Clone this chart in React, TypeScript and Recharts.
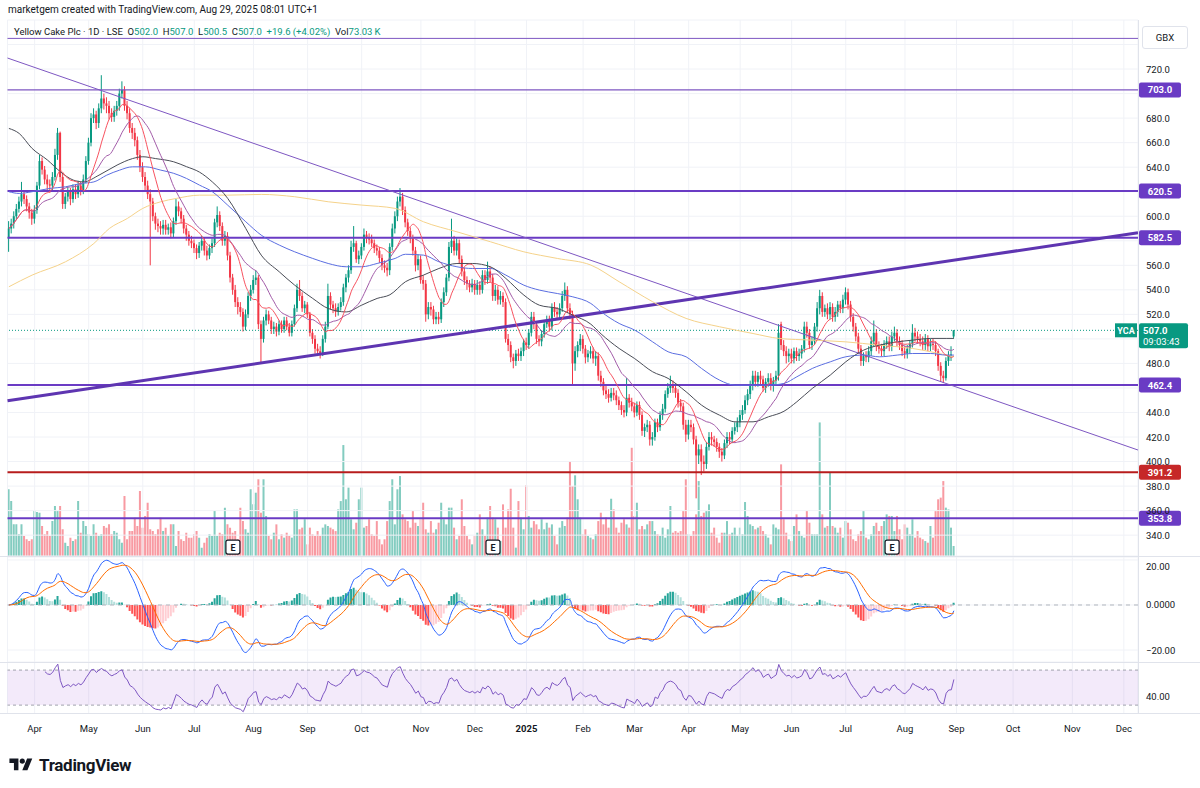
import React from 'react';
import {
  ComposedChart,
  Bar,
  Line,
  XAxis,
  YAxis,
  CartesianGrid,
  ReferenceLine,
  ReferenceArea,
  ReferenceDot,
  Cell,
} from 'recharts';

// daily candles, Yellow Cake Plc (LSE), mid Mar 2024 -> 29 Aug 2025
const opens = [
  582, 590, 594, 600, 606, 612, 618, 614, 608, 603,
  598, 605, 625, 645, 638, 630, 626, 625, 632, 650,
  668, 632, 610, 616, 620, 614, 622, 618, 625, 621,
  630, 645, 660, 680, 683, 676, 688, 696, 692, 690,
  684, 681, 686, 690, 700, 703, 690, 684, 672, 668,
  662, 650, 640, 632, 625, 618, 612, 600, 594, 592,
  590, 593, 589, 591, 586, 596, 608, 604, 598, 590,
  585, 580, 578, 574, 570, 576, 580, 572, 568, 574,
  578, 595, 601, 592, 580, 584, 568, 550, 540, 530,
  526, 522, 510, 520, 535, 540, 548, 550, 512, 500,
  515, 520, 515, 508, 510, 506, 512, 508, 515, 510,
  505, 512, 525, 540, 535, 525, 528, 520, 505, 500,
  492, 490, 488, 500, 510, 535, 528, 525, 522, 526,
  530, 542, 550, 556, 575, 578, 565, 568, 575, 585,
  582, 581, 578, 574, 572, 566, 560, 558, 556, 575,
  590, 600, 612, 616, 605, 595, 588, 582, 572, 560,
  565, 548, 545, 520, 526, 524, 516, 518, 516, 530,
  538, 550, 575, 580, 572, 578, 565, 555, 548, 545,
  542, 545, 540, 544, 540, 552, 548, 555, 550, 535,
  540, 532, 535, 530, 500, 495, 485, 482, 488, 486,
  490, 497, 495, 505, 518, 512, 500, 498, 504, 512,
  515, 510, 526, 522, 520, 525, 535, 540, 525, 520,
  480, 490, 495, 500, 492, 485, 488, 490, 484, 486,
  470, 465, 458, 455, 452, 456, 454, 450, 446, 442,
  440, 452, 448, 445, 440, 446, 438, 425, 428, 430,
  418, 420, 432, 428, 438, 443, 455, 460, 462, 460,
  456, 448, 445, 430, 422, 430, 428, 418, 405, 410,
  400, 398, 412, 420, 418, 416, 412, 408, 405, 415,
  420, 418, 425, 428, 432, 438, 442, 450, 455, 462,
  470, 465, 470, 467, 460, 465, 468, 462, 466, 470,
  512, 495, 490, 486, 488, 484, 490, 486, 488, 492,
  510, 505, 495, 498, 510, 525, 535, 522, 525, 520,
  526, 518, 522, 528, 525, 532, 538, 528, 518, 510,
  502, 492, 482, 486, 485, 490, 498, 505, 494, 492,
  490, 496, 498, 494, 502, 505, 498, 495, 490, 488,
  492, 496, 505, 502, 500, 498, 495, 500, 494, 496,
  495, 490, 478, 470, 468, 482, 487, 502,
];

const highs = [
  596, 598, 604, 610, 616, 628, 621, 617, 611, 606,
  609, 628, 650, 648, 641, 634, 630, 636, 655, 672,
  669, 635, 619, 624, 623, 626, 626, 629, 628, 634,
  649, 664, 684, 688, 686, 692, 715, 700, 697, 694,
  688, 690, 694, 704, 710, 706, 694, 688, 676, 672,
  665, 654, 644, 636, 629, 622, 615, 603, 598, 596,
  597, 597, 594, 595, 599, 614, 612, 607, 601, 593,
  588, 584, 581, 577, 579, 584, 583, 576, 577, 582,
  598, 608, 604, 595, 588, 587, 571, 553, 544, 534,
  530, 525, 524, 538, 544, 552, 556, 552, 515, 518,
  524, 523, 518, 514, 513, 515, 515, 518, 518, 513,
  515, 528, 545, 548, 538, 531, 530, 522, 508, 503,
  496, 494, 503, 514, 545, 538, 531, 529, 529, 534,
  545, 553, 560, 580, 592, 580, 572, 578, 590, 588,
  586, 585, 581, 577, 575, 569, 564, 562, 578, 594,
  604, 616, 623, 619, 608, 598, 591, 585, 575, 569,
  568, 552, 548, 530, 530, 527, 522, 522, 533, 542,
  553, 579, 598, 584, 582, 581, 568, 558, 551, 548,
  549, 548, 548, 547, 556, 556, 563, 559, 553, 544,
  543, 539, 538, 533, 504, 498, 488, 491, 492, 493,
  500, 501, 508, 522, 522, 514, 503, 507, 515, 519,
  519, 529, 530, 526, 529, 539, 546, 543, 529, 523,
  494, 498, 504, 503, 495, 491, 494, 493, 490, 489,
  474, 468, 462, 459, 460, 460, 458, 453, 449, 446,
  468, 455, 452, 448, 449, 449, 441, 431, 434, 433,
  424, 435, 435, 441, 447, 458, 464, 470, 466, 463,
  459, 451, 448, 434, 434, 434, 431, 421, 414, 414,
  405, 416, 424, 424, 421, 419, 415, 411, 418, 424,
  424, 428, 432, 436, 442, 446, 454, 459, 466, 474,
  474, 473, 474, 470, 468, 472, 472, 469, 474, 512,
  514, 499, 494, 492, 492, 493, 493, 492, 495, 514,
  514, 508, 502, 513, 530, 540, 538, 528, 529, 530,
  529, 526, 531, 531, 536, 542, 541, 531, 521, 513,
  505, 495, 489, 490, 494, 502, 515, 508, 498, 496,
  499, 502, 502, 506, 510, 508, 502, 499, 494, 495,
  499, 512, 509, 506, 504, 502, 504, 503, 500, 500,
  498, 492, 481, 474, 485, 490, 494, 507,
];

const lows = [
  571, 586, 590, 597, 603, 608, 610, 604, 598, 593,
  594, 602, 622, 634, 626, 621, 619, 621, 629, 646,
  628, 606, 606, 612, 609, 611, 614, 615, 617, 618,
  627, 642, 657, 676, 671, 672, 684, 687, 684, 679,
  677, 677, 682, 686, 696, 686, 679, 668, 663, 657,
  646, 636, 628, 620, 614, 560, 596, 589, 587, 585,
  585, 585, 585, 582, 583, 593, 600, 594, 586, 580,
  576, 574, 570, 565, 566, 572, 568, 564, 565, 570,
  575, 591, 588, 576, 576, 564, 546, 536, 526, 520,
  518, 506, 507, 517, 531, 537, 544, 508, 480, 497,
  511, 512, 504, 504, 502, 503, 505, 505, 507, 502,
  502, 510, 522, 531, 522, 521, 517, 502, 496, 488,
  486, 484, 486, 497, 508, 524, 521, 518, 519, 523,
  527, 538, 546, 553, 571, 562, 561, 565, 572, 578,
  577, 575, 570, 568, 562, 556, 554, 551, 552, 572,
  586, 596, 608, 601, 591, 584, 578, 568, 555, 556,
  545, 540, 514, 516, 519, 512, 512, 512, 513, 526,
  535, 547, 570, 568, 568, 561, 551, 544, 540, 538,
  538, 536, 536, 536, 537, 544, 545, 546, 531, 531,
  528, 528, 526, 497, 490, 481, 476, 478, 482, 482,
  486, 491, 492, 502, 508, 496, 494, 494, 501, 509,
  506, 507, 518, 516, 516, 522, 531, 521, 516, 462,
  474, 485, 490, 488, 480, 481, 484, 480, 478, 466,
  461, 454, 451, 448, 449, 450, 446, 442, 438, 436,
  437, 444, 441, 436, 437, 434, 421, 420, 424, 413,
  413, 417, 424, 425, 434, 440, 452, 456, 456, 452,
  444, 441, 426, 416, 418, 424, 414, 370, 398, 389,
  392, 394, 409, 413, 412, 408, 403, 400, 402, 411,
  414, 415, 422, 424, 428, 434, 439, 446, 451, 458,
  461, 461, 463, 457, 456, 461, 458, 457, 462, 466,
  491, 486, 480, 481, 480, 480, 482, 482, 484, 489,
  501, 492, 491, 495, 506, 520, 518, 518, 516, 516,
  514, 514, 518, 521, 521, 528, 524, 514, 506, 498,
  488, 478, 478, 481, 481, 486, 494, 490, 488, 486,
  486, 492, 490, 490, 498, 494, 491, 486, 484, 484,
  488, 493, 498, 496, 494, 491, 491, 490, 490, 491,
  486, 474, 465, 464, 466, 478, 482, 500.5,
];

const closes = [
  590, 594, 600, 606, 612, 618, 614, 608, 603, 598,
  605, 625, 645, 638, 630, 626, 625, 632, 650, 668,
  632, 610, 616, 620, 614, 622, 618, 625, 621, 630,
  645, 660, 680, 683, 676, 688, 696, 692, 690, 684,
  681, 686, 690, 700, 703, 690, 684, 672, 668, 662,
  650, 640, 632, 625, 618, 612, 600, 594, 592, 590,
  593, 589, 591, 586, 596, 608, 604, 598, 590, 585,
  580, 578, 574, 570, 576, 580, 572, 568, 574, 578,
  595, 601, 592, 580, 584, 568, 550, 540, 530, 526,
  522, 510, 520, 535, 540, 548, 550, 512, 500, 515,
  520, 515, 508, 510, 506, 512, 508, 515, 510, 505,
  512, 525, 540, 535, 525, 528, 520, 505, 500, 492,
  490, 488, 500, 510, 535, 528, 525, 522, 526, 530,
  542, 550, 556, 575, 578, 565, 568, 575, 585, 582,
  581, 578, 574, 572, 566, 560, 558, 556, 575, 590,
  600, 612, 616, 605, 595, 588, 582, 572, 560, 565,
  548, 545, 520, 526, 524, 516, 518, 516, 530, 538,
  550, 575, 580, 572, 578, 565, 555, 548, 545, 542,
  545, 540, 544, 540, 552, 548, 555, 550, 535, 540,
  532, 535, 530, 500, 495, 485, 482, 488, 486, 490,
  497, 495, 505, 518, 512, 500, 498, 504, 512, 515,
  510, 526, 522, 520, 525, 535, 540, 525, 520, 480,
  490, 495, 500, 492, 485, 488, 490, 484, 486, 470,
  465, 458, 455, 452, 456, 454, 450, 446, 442, 440,
  452, 448, 445, 440, 446, 438, 425, 428, 430, 418,
  420, 432, 428, 438, 443, 455, 460, 462, 460, 456,
  448, 445, 430, 422, 430, 428, 418, 405, 410, 400,
  398, 412, 420, 418, 416, 412, 408, 405, 415, 420,
  418, 425, 428, 432, 438, 442, 450, 455, 462, 470,
  465, 470, 467, 460, 465, 468, 462, 466, 470, 505,
  495, 490, 486, 488, 484, 490, 486, 488, 492, 510,
  505, 495, 498, 510, 525, 535, 522, 525, 520, 526,
  518, 522, 528, 525, 532, 538, 528, 518, 510, 502,
  492, 482, 486, 485, 490, 498, 505, 494, 492, 490,
  496, 498, 494, 502, 505, 498, 495, 490, 488, 492,
  496, 505, 502, 500, 498, 495, 500, 494, 496, 495,
  490, 478, 470, 468, 482, 487, 487.4, 507,
];

// volume in thousands of shares
const volumes = [
  487, 401, 231, 231, 158, 231, 146, 122, 109, 122,
  328, 321, 316, 219, 158, 182, 146, 255, 365, 328,
  365, 195, 97, 73, 134, 109, 122, 401, 170, 255,
  219, 158, 146, 231, 170, 146, 158, 219, 207, 231,
  158, 182, 170, 122, 97, 438, 122, 182, 182, 280,
  219, 474, 207, 292, 389, 195, 182, 158, 195, 280,
  182, 207, 146, 231, 231, 73, 182, 122, 109, 170,
  134, 134, 158, 182, 134, 61, 97, 134, 158, 146,
  328, 146, 170, 158, 353, 231, 207, 170, 182, 122,
  353, 255, 195, 170, 487, 377, 462, 560, 316, 560,
  292, 146, 122, 170, 231, 122, 158, 134, 170, 146,
  134, 340, 340, 195, 207, 268, 85, 207, 158, 146,
  182, 146, 207, 231, 219, 207, 195, 182, 340, 401,
  810, 414, 499, 268, 195, 243, 414, 499, 207, 219,
  268, 158, 146, 255, 122, 85, 122, 255, 401, 560,
  231, 487, 584, 304, 268, 255, 207, 328, 243, 219,
  268, 389, 195, 170, 255, 170, 195, 243, 389, 268,
  231, 353, 353, 207, 122, 146, 414, 219, 146, 122,
  85, 146, 170, 304, 195, 146, 280, 365, 280, 268,
  207, 109, 377, 207, 340, 491, 207, 61, 401, 280,
  195, 516, 292, 207, 255, 231, 195, 268, 195, 243,
  207, 231, 146, 85, 207, 255, 219, 280, 693, 511,
  589, 414, 280, 158, 195, 146, 134, 122, 158, 255,
  316, 231, 280, 207, 418, 340, 207, 170, 243, 268,
  231, 207, 790, 292, 389, 195, 219, 195, 231, 255,
  255, 182, 158, 146, 207, 134, 195, 365, 170, 182,
  170, 182, 328, 560, 158, 146, 182, 304, 547, 292,
  316, 328, 377, 170, 207, 134, 97, 170, 170, 255,
  158, 170, 207, 146, 207, 158, 394, 292, 231, 219,
  195, 207, 219, 182, 158, 134, 85, 231, 207, 195,
  669, 268, 170, 122, 109, 219, 304, 182, 146, 134,
  328, 243, 158, 158, 158, 975, 304, 207, 219, 608,
  219, 207, 170, 207, 134, 255, 243, 195, 122, 109,
  158, 182, 328, 134, 122, 158, 219, 243, 182, 219,
  255, 304, 292, 292, 182, 292, 195, 122, 231, 207,
  158, 268, 134, 182, 134, 122, 109, 97, 219, 134,
  328, 414, 426, 547, 353, 340, 207, 73.03,
];

// slower moving averages: [candle index, value]
const ma50Pts = [
  [0, 671.6], [4, 667.5], [9, 655.3], [15, 645.8], [20, 636.3], [25, 629.5], [29, 628], [35, 633.5],
  [42, 641.7], [48, 647], [52, 648.5], [57, 647], [64, 644.4], [69, 640.4], [74, 636], [79, 628],
  [85, 614.5], [92, 590], [98, 568.3], [105, 554.7], [111, 543.8], [118, 533], [124, 524.8], [131, 522],
  [137, 527.5], [143, 533], [148, 536], [154, 546.6], [161, 552], [167, 557.4], [174, 561.5], [180, 561.5],
  [187, 558.8], [193, 549.3], [200, 535.7], [206, 527.5], [213, 524.8], [219, 519.4], [226, 512], [230, 504],
  [237, 492.2], [243, 484], [250, 473.2], [256, 467.8], [263, 456.9], [269, 446], [276, 437.8], [282, 432.4],
  [289, 432.4], [295, 436.5], [301, 441], [306, 448.7], [312, 459.6], [319, 470.5], [325, 481.3], [332, 490.9],
  [338, 494.9], [345, 497.6], [351, 499], [358, 500.4], [364, 500.4], [367, 500.4],
];

const ma100Pts = [
  [0, 620], [4, 618.6], [9, 620], [16, 622.7], [22, 624], [28, 626.7], [33, 628], [38, 633.5],
  [43, 637.6], [48, 640.3], [53, 640.3], [59, 637.6], [64, 635], [69, 630.8], [74, 625.4], [79, 620],
  [85, 609], [92, 595.5], [98, 584.6], [105, 576.5], [111, 571], [118, 565.6], [124, 561.5], [131, 558.8],
  [137, 558.8], [143, 561.5], [150, 565.6], [154, 569], [161, 568.3], [167, 562.9], [174, 558.8], [180, 557.4],
  [187, 557.4], [193, 552], [200, 543.8], [206, 539.8], [213, 537], [219, 534.3], [226, 528.9], [230, 522.1],
  [237, 512.6], [243, 507.2], [250, 497.6], [256, 489.5], [263, 485.4], [269, 475.9], [276, 466.4], [282, 462.3],
  [289, 462.3], [295, 462.3], [301, 463.7], [306, 469.1], [312, 475.9], [319, 481.3], [325, 485.4], [332, 486.8],
  [338, 485.4], [345, 486.8], [351, 488.1], [358, 488.1], [364, 486.8], [367, 486.8],
];

const ma200Pts = [
  [0, 542.5], [9, 552], [22, 562.9], [33, 577.8], [39, 590], [46, 598.2], [52, 606.4], [59, 611.8],
  [65, 614.5], [74, 617.2], [85, 617.2], [98, 617.8], [111, 615.9], [124, 611.8], [137, 609.1], [150, 606.4],
  [161, 595.5], [174, 587.3], [187, 579.2], [200, 571], [213, 565.6], [226, 560.2], [237, 546.6], [250, 530.3],
  [263, 516.7], [276, 509.9], [289, 504.4], [299, 500.4], [312, 499], [325, 497.6], [338, 494.9], [351, 492.2],
  [358, 489.5], [367, 485.4],
];

const monthTicks = [10, 31, 52, 72, 95, 116, 137, 160, 181, 201, 223, 243, 264, 284, 304, 325, 348, 368, 390, 413, 433];
const monthLabels = ['Apr', 'May', 'Jun', 'Jul', 'Aug', 'Sep', 'Oct', 'Nov', 'Dec', '2025', 'Feb', 'Mar', 'Apr', 'May', 'Jun', 'Jul', 'Aug', 'Sep', 'Oct', 'Nov', 'Dec'];
const priceTicks = [340, 360, 380, 400, 420, 440, 460, 480, 500, 520, 540, 560, 580, 600, 620, 640, 660, 680, 700, 720, 740];
const hiddenPriceLabels = [460, 500, 580, 620, 700, 740];
const levelPrices = [703.0, 620.5, 582.5, 462.4, 391.2, 353.8];
const earningsIdx = [87, 188, 343];

const UP = '#089981';
const DOWN = '#f23645';
const PURPLE = '#6a3bc4';
const LINE_RED = '#b71c1c';
const X_DOMAIN: [number, number] = [-0.54, 438.5];

const sma = (vals: number[], n: number) =>
  vals.map((_, i) => {
    const part = vals.slice(Math.max(0, i - n + 1), i + 1);
    return part.reduce((a, b) => a + b, 0) / part.length;
  });

const ema = (vals: number[], n: number) => {
  const k = 2 / (n + 1);
  const out: number[] = [];
  vals.forEach((v, i) => out.push(i === 0 ? v : v * k + out[i - 1] * (1 - k)));
  return out;
};

const rsiOf = (vals: number[], n: number) => {
  const out: (number | null)[] = [null];
  let g = 0;
  let l = 0;
  for (let i = 1; i < vals.length; i++) {
    const d = vals[i] - vals[i - 1];
    const up = Math.max(d, 0);
    const dn = Math.max(-d, 0);
    if (i <= n) {
      g += (up - g) / i;
      l += (dn - l) / i;
    } else {
      g = (g * (n - 1) + up) / n;
      l = (l * (n - 1) + dn) / n;
    }
    out.push(i < n ? null : l === 0 ? 100 : 100 - 100 / (1 + g / l));
  }
  return out;
};

const ma10 = sma(closes, 10);
const ma20 = sma(closes, 20);
const ema12 = ema(closes, 12);
const ema26 = ema(closes, 26);
const macd = ema12.map((v, i) => v - ema26[i]);
const signal = ema(macd, 9);
const hist = macd.map((v, i) => v - signal[i]);
const rsiVals = rsiOf(closes, 14);

const toMap = (pts: number[][]) => new Map(pts.map(([i, v]) => [i, v]));
const m50 = toMap(ma50Pts);
const m100 = toMap(ma100Pts);
const m200 = toMap(ma200Pts);

const rows = closes.map((c, i) => ({
  x: i,
  open: opens[i],
  high: highs[i],
  low: lows[i],
  close: c,
  range: [lows[i], highs[i]],
  vol: volumes[i],
  ma10: ma10[i],
  ma20: ma20[i],
  ma50: m50.get(i) ?? null,
  ma100: m100.get(i) ?? null,
  ma200: m200.get(i) ?? null,
  macd: macd[i],
  signal: signal[i],
  hist: hist[i],
  rsi: rsiVals[i],
}));

const histColor = (i: number) => {
  const h = hist[i];
  const prev = i > 0 ? hist[i - 1] : 0;
  if (h >= 0) return h >= prev ? '#26a69a' : '#b2dfdb';
  return h < prev ? '#ff5252' : '#ffcdd2';
};

const Candle = (props: any) => {
  const { x, y, width, height, payload } = props;
  if (x == null || y == null) return null;
  const { open, close, high, low } = payload;
  const color = close >= open ? UP : DOWN;
  const ratio = high - low > 0 ? height / (high - low) : 0;
  const yo = y + (high - open) * ratio;
  const yc = y + (high - close) * ratio;
  const cx = x + width / 2;
  return (
    <g>
      <line x1={cx} x2={cx} y1={y} y2={y + height} stroke={color} strokeWidth={1} />
      <rect x={x} y={Math.min(yo, yc)} width={width} height={Math.max(Math.abs(yo - yc), 1)} fill={color} />
    </g>
  );
};

const PriceTick = (props: any) => {
  const { x, y, payload } = props;
  if (hiddenPriceLabels.includes(payload.value)) return <g />;
  return (
    <text x={x} y={y} dy={3.5} fontSize={9.5} fill="#131722" textAnchor="start">
      {payload.value.toFixed(1)}
    </text>
  );
};

const MacdTick = (props: any) => {
  const { x, y, payload } = props;
  const v = payload.value;
  const txt = v === 0 ? '0.0000' : v < 0 ? '\u2212' + Math.abs(v).toFixed(2) : v.toFixed(2);
  return (
    <text x={x} y={y} dy={3.5} fontSize={9.5} fill="#131722" textAnchor="start">
      {txt}
    </text>
  );
};

const MonthTick = (props: any) => {
  const { x, y, payload } = props;
  const label = monthLabels[monthTicks.indexOf(payload.value)] ?? '';
  return (
    <text x={x} y={y} dy={11} textAnchor="middle" fontSize={9.5} fontWeight={label === '2025' ? 700 : 400} fill="#131722">
      {label}
    </text>
  );
};

const levelLabel = (text: string, bg: string) => (p: any) => {
  const { x, y, width } = p.viewBox;
  const left = x + width + 1;
  return (
    <g>
      <rect x={left} y={y - 7.5} width={42} height={15} rx={2} fill={bg} />
      <text x={left + 21} y={y + 3.5} textAnchor="middle" fontSize={9.5} fontWeight={700} fill="#fff">
        {text}
      </text>
    </g>
  );
};

const lastLabel = (p: any) => {
  const { x, y, width } = p.viewBox;
  const right = x + width;
  return (
    <g>
      <rect x={right - 23} y={y - 7} width={22} height={14} fill={UP} />
      <text x={right - 12} y={y + 3.5} textAnchor="middle" fontSize={9} fontWeight={700} fill="#fff">YCA</text>
      <rect x={right + 1} y={y - 7} width={49} height={25} rx={2} fill={UP} />
      <text x={right + 5} y={y + 3.5} fontSize={9.5} fontWeight={700} fill="#fff">{closes[closes.length - 1].toFixed(1)}</text>
      <text x={right + 5} y={y + 14.5} fontSize={9.5} fill="#fff">09:03:43</text>
    </g>
  );
};

const EarnMark = (p: any) => (
  <g>
    <rect x={p.cx - 7} y={p.cy - 7} width={14} height={14} rx={2} fill="#fff" stroke="#131722" strokeWidth={1.2} />
    <text x={p.cx} y={p.cy + 3.5} textAnchor="middle" fontSize={9} fontWeight={700} fill="#131722">E</text>
  </g>
);

const abs = (top: number, left = 0): React.CSSProperties => ({ position: 'absolute', top, left });

export default function App() {
  const n = closes.length;
  const last = closes[n - 1];
  const chg = last - closes[n - 2];
  const pct = (chg / closes[n - 2]) * 100;
  const teal = { color: UP };

  return (
    <div
      style={{
        position: 'absolute',
        left: 0,
        top: 0,
        width: 1200,
        height: 788,
        background: '#fff',
        overflow: 'hidden',
        fontFamily: 'Roboto, "Noto Sans", sans-serif',
        color: '#131722',
      }}
    >
      <div style={{ ...abs(4, 8), fontSize: 10 }}>marketgem created with TradingView.com, Aug 29, 2025 08:01 UTC+1</div>

      {/* volume layer */}
      <div style={abs(0)}>
        <ComposedChart width={1200} height={556} data={rows} margin={{ top: 20, right: 62, bottom: 0, left: 7.5 }}>
          <XAxis type="number" dataKey="x" domain={X_DOMAIN} hide allowDataOverflow />
          <YAxis domain={[0, 3913]} hide />
          <Bar dataKey="vol" barSize={2} isAnimationActive={false}>
            {rows.map((r, i) => (
              <Cell key={i} fill={r.close >= r.open ? 'rgba(8,153,129,0.5)' : 'rgba(242,54,69,0.5)'} />
            ))}
          </Bar>
        </ComposedChart>
      </div>

      {/* price pane */}
      <div style={abs(0)}>
        <ComposedChart width={1200} height={556} data={rows} margin={{ top: 20, right: 0, bottom: 0, left: 7.5 }}>
          <CartesianGrid stroke="#f0f2f7" />
          <XAxis type="number" dataKey="x" domain={X_DOMAIN} ticks={monthTicks} hide allowDataOverflow />
          <YAxis
            orientation="right"
            width={62}
            domain={[323, 760]}
            ticks={priceTicks}
            axisLine={false}
            tickLine={false}
            tick={<PriceTick />}
            allowDataOverflow
          />
          <ReferenceLine y={745} stroke="#7e57c2" strokeWidth={1} />
          <ReferenceLine y={levelPrices[0]} stroke="#7e57c2" strokeWidth={1.2} label={levelLabel('703.0', PURPLE)} />
          <ReferenceLine y={levelPrices[1]} stroke={PURPLE} strokeWidth={2} label={levelLabel('620.5', PURPLE)} />
          <ReferenceLine y={levelPrices[2]} stroke={PURPLE} strokeWidth={2} label={levelLabel('582.5', PURPLE)} />
          <ReferenceLine y={levelPrices[3]} stroke={PURPLE} strokeWidth={2} label={levelLabel('462.4', PURPLE)} />
          <ReferenceLine y={levelPrices[4]} stroke={LINE_RED} strokeWidth={2} label={levelLabel('391.2', '#c62828')} />
          <ReferenceLine y={levelPrices[5]} stroke={PURPLE} strokeWidth={2} label={levelLabel('353.8', PURPLE)} />
          <ReferenceLine y={last} stroke={UP} strokeDasharray="1 2" label={lastLabel} />
          <ReferenceLine segment={[{ x: X_DOMAIN[0], y: 729 }, { x: X_DOMAIN[1], y: 409.4 }]} stroke="#7e57c2" strokeWidth={1} />
          <ReferenceLine segment={[{ x: X_DOMAIN[0], y: 449.6 }, { x: X_DOMAIN[1], y: 586.5 }]} stroke="#5e35b1" strokeWidth={3} />
          <Line dataKey="ma200" type="monotone" stroke="#f5d28a" strokeWidth={1} dot={false} connectNulls isAnimationActive={false} />
          <Line dataKey="ma100" type="monotone" stroke="#5b6ee1" strokeWidth={1} dot={false} connectNulls isAnimationActive={false} />
          <Line dataKey="ma50" type="monotone" stroke="#4a4d57" strokeWidth={1} dot={false} connectNulls isAnimationActive={false} />
          <Line dataKey="ma20" type="monotone" stroke="#a25ba8" strokeWidth={1} dot={false} isAnimationActive={false} />
          <Line dataKey="ma10" type="monotone" stroke="#f7525f" strokeWidth={1} dot={false} isAnimationActive={false} />
          <Bar dataKey="range" barSize={2} shape={(p: any) => <Candle {...p} />} isAnimationActive={false} />
          {earningsIdx.map((e) => (
            <ReferenceDot key={e} x={e} y={330.3} shape={EarnMark} />
          ))}
        </ComposedChart>
      </div>

      {/* legend */}
      <div style={{ ...abs(26, 14), fontSize: 9.5, whiteSpace: 'pre' }}>
        {'Yellow Cake Plc \u00b7 1D \u00b7 LSE  '}O<span style={teal}>{opens[n - 1].toFixed(1)}</span>
        {'  '}H<span style={teal}>{highs[n - 1].toFixed(1)}</span>
        {'  '}L<span style={teal}>{lows[n - 1].toFixed(1)}</span>
        {'  '}C<span style={teal}>{last.toFixed(1)}</span>
        {'  '}<span style={teal}>{`+${chg.toFixed(1)} (+${pct.toFixed(2)}%)`}</span>
        {'  '}Vol<span style={teal}>{`${volumes[n - 1].toFixed(2)}\u2009K`}</span>
      </div>

      <div
        style={{
          ...abs(26, 1142),
          width: 44,
          height: 21,
          border: '1px solid #e0e3eb',
          borderRadius: 3,
          background: '#fff',
          fontSize: 9.5,
          lineHeight: '21px',
          textAlign: 'center',
        }}
      >
        GBX
      </div>

      {/* MACD pane */}
      <div style={abs(557)}>
        <ComposedChart width={1200} height={105} data={rows} margin={{ top: 0, right: 0, bottom: 0, left: 7.5 }}>
          <CartesianGrid stroke="#f0f2f7" />
          <XAxis type="number" dataKey="x" domain={X_DOMAIN} ticks={monthTicks} hide allowDataOverflow />
          <YAxis
            orientation="right"
            width={62}
            domain={[-25.33, 21.33]}
            ticks={[-20, 0, 20]}
            axisLine={false}
            tickLine={false}
            tick={<MacdTick />}
            allowDataOverflow
          />
          <ReferenceLine y={0} stroke="#b2b5be" strokeDasharray="4 4" />
          <Bar dataKey="hist" barSize={2} isAnimationActive={false}>
            {rows.map((_, i) => (
              <Cell key={i} fill={histColor(i)} />
            ))}
          </Bar>
          <Line dataKey="macd" type="monotone" stroke="#2962ff" strokeWidth={1} dot={false} isAnimationActive={false} />
          <Line dataKey="signal" type="monotone" stroke="#ff6d00" strokeWidth={1} dot={false} isAnimationActive={false} />
        </ComposedChart>
      </div>

      {/* RSI pane + time axis */}
      <div style={abs(663)}>
        <ComposedChart width={1200} height={80} data={rows} margin={{ top: 0, right: 0, bottom: 0, left: 7.5 }}>
          <CartesianGrid stroke="#f0f2f7" horizontal={false} />
          <XAxis
            type="number"
            dataKey="x"
            domain={X_DOMAIN}
            ticks={monthTicks}
            height={30}
            axisLine={false}
            tickLine={false}
            tick={<MonthTick />}
            allowDataOverflow
            interval={0}
          />
          <YAxis
            orientation="right"
            width={62}
            domain={[21, 78.1]}
            ticks={[40]}
            axisLine={false}
            tickLine={false}
            tick={<MacdTick />}
            allowDataOverflow
          />
          <ReferenceArea y1={30} y2={70} fill="#9c4fd6" fillOpacity={0.12} stroke="none" />
          <ReferenceLine y={70} stroke="#a0a3ad" strokeDasharray="3 3" />
          <ReferenceLine y={30} stroke="#a0a3ad" strokeDasharray="3 3" />
          <Line dataKey="rsi" type="linear" stroke="#7e57c2" strokeWidth={1} dot={false} isAnimationActive={false} />
        </ComposedChart>
      </div>

      {/* pane separators */}
      <div style={{ ...abs(556, 0), width: 1200, height: 1, background: '#e0e3eb' }} />
      <div style={{ ...abs(662, 0), width: 1200, height: 1, background: '#e0e3eb' }} />
      <div style={{ ...abs(713, 0), width: 1200, height: 1, background: '#e0e3eb' }} />
      <div style={{ ...abs(20, 1138), width: 1, height: 693, background: '#e0e3eb' }} />

      {/* footer logo */}
      <div style={{ ...abs(755, 8), display: 'flex', alignItems: 'center', gap: 5 }}>
        <svg width="26" height="18" viewBox="0 0 36 28">
          <path d="M14 22H7V11H0V4h14v18zM28 22h-8l7.5-18h8L28 22z" fill="#131722" />
          <circle cx="20" cy="8" r="4" fill="#131722" />
        </svg>
        <span style={{ fontSize: 17, fontWeight: 700, letterSpacing: -0.3 }}>TradingView</span>
      </div>
    </div>
  );
}
